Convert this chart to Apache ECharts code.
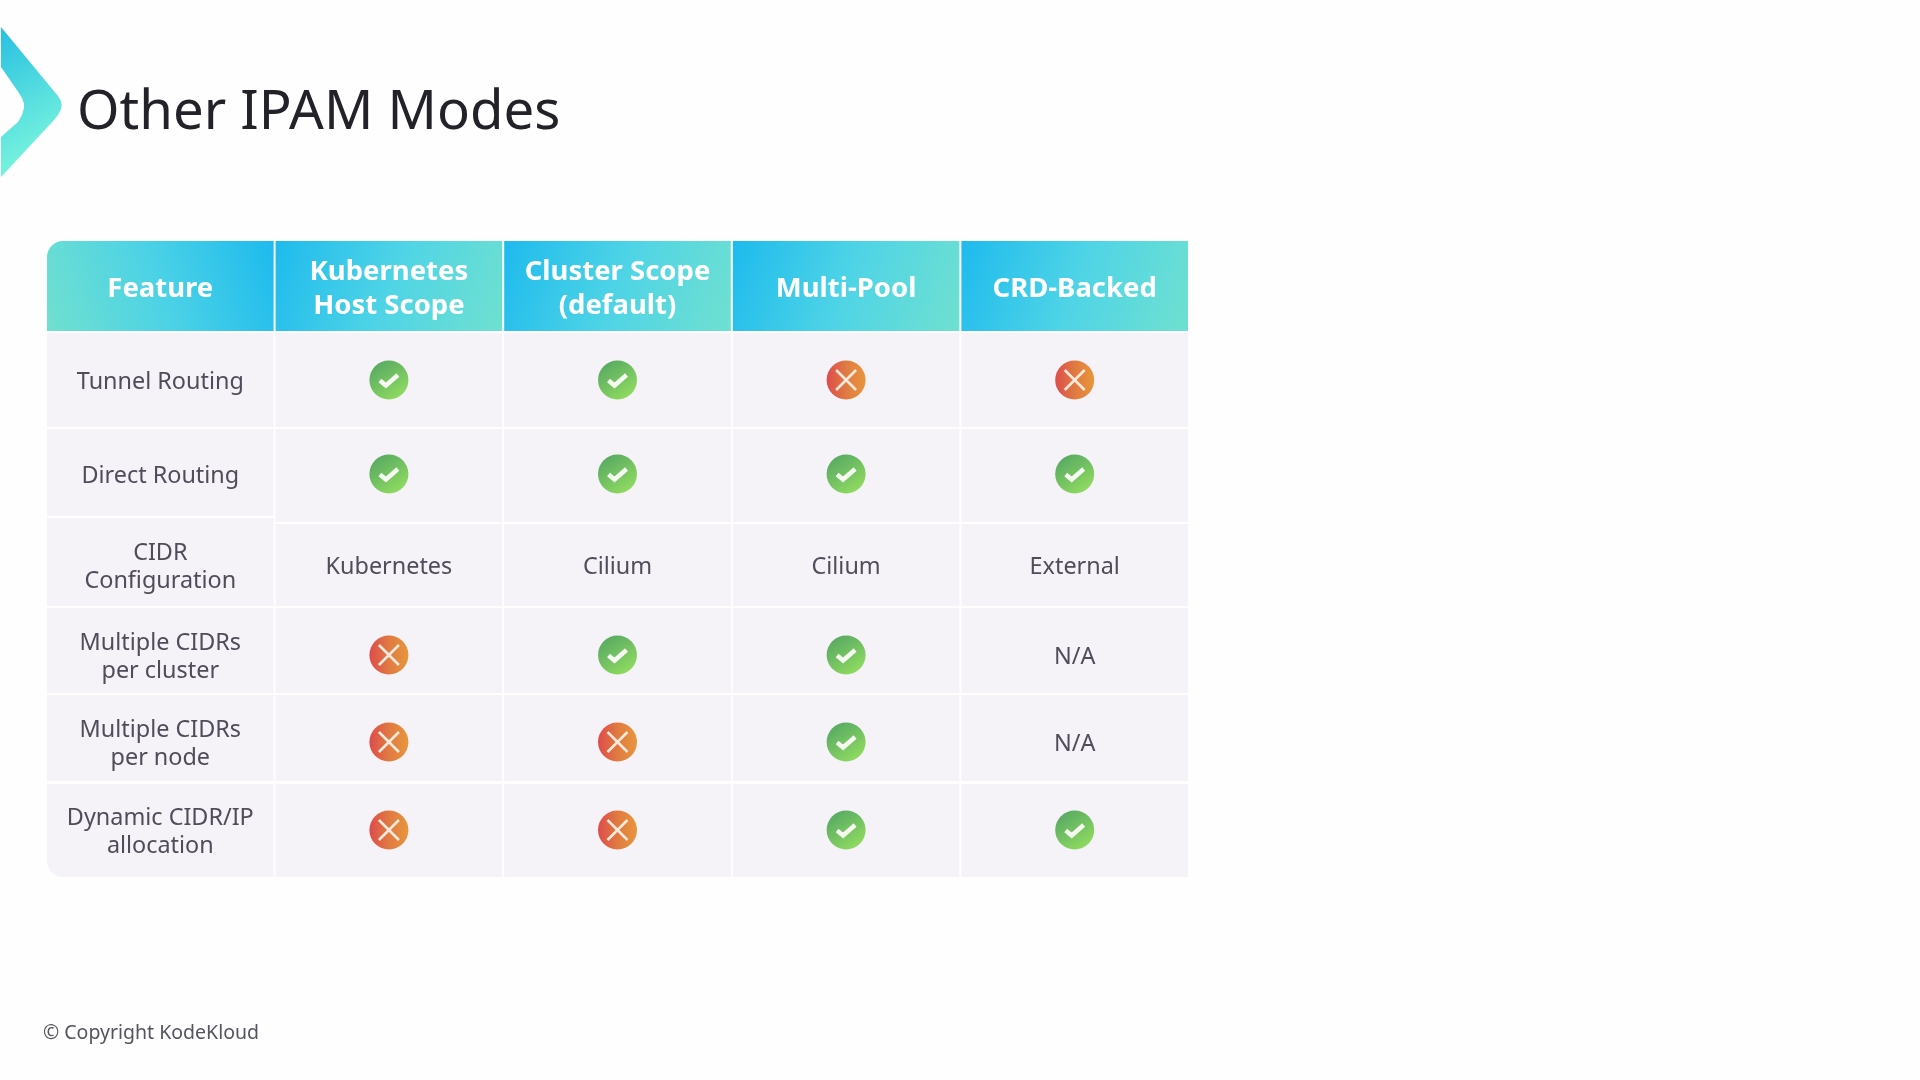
<!DOCTYPE html>
<html lang="en">

<head>
    <title>Other IPAM Modes</title>
    <meta charset="UTF-8">
    <script src="https://cdn.jsdelivr.net/npm/echarts@6/dist/echarts.min.js"></script>
    <style>
        html, body { margin: 0; padding: 0; background: #fefefe; }
        #mychart { width: 1920px; height: 1080px; }
    </style>
</head>

<body>
    <div id="mychart"></div>

    <script>
        // table content, 'yes' / 'no' become icons, anything else stays text
        var columns = ['Feature', 'Kubernetes\nHost Scope', 'Cluster Scope\n(default)', 'Multi-Pool', 'CRD-Backed'];
        var features = ['Tunnel Routing', 'Direct Routing', 'CIDR\nConfiguration', 'Multiple CIDRs\nper cluster', 'Multiple CIDRs\nper node', 'Dynamic CIDR/IP\nallocation'];
        var hostScope = ['yes', 'yes', 'Kubernetes', 'no', 'no', 'no'];
        var clusterScope = ['yes', 'yes', 'Cilium', 'yes', 'no', 'no'];
        var multiPool = ['no', 'yes', 'Cilium', 'yes', 'yes', 'yes'];
        var crdBacked = ['no', 'yes', 'External', 'N/A', 'N/A', 'yes'];

        // row layout on the y axis, header first
        var rowTops = [241, 333, 429, 524, 608, 695, 784];
        var rowBottoms = [331, 427, 522, 606, 693, 781, 877];
        var rowMiddles = [286, 380, 474, 565, 655, 742, 830];
        // the first column breaks rows 2 and 3 a little higher
        var featureTops = [241, 333, 429, 518, 608, 695, 784];
        var featureBottoms = [331, 427, 516, 606, 693, 781, 877];

        var fontName = 'Noto Sans';
        var textColor = '#4f4d59';

        var cells = [];
        columns.forEach(function (c, i) { cells.push([i, 0, c]); });
        features.forEach(function (f, i) { cells.push([0, i + 1, f]); });
        [hostScope, clusterScope, multiPool, crdBacked].forEach(function (list, c) {
            list.forEach(function (v, i) { cells.push([c + 1, i + 1, v]); });
        });

        function grad(x0, y0, x1, y1, from, mid, to) {
            return new echarts.graphic.LinearGradient(x0, y0, x1, y1, [
                { offset: 0, color: from },
                { offset: 0.5, color: mid },
                { offset: 1, color: to }
            ]);
        }

        function yesIcon(x, y) {
            return [{
                type: 'circle',
                shape: { cx: x, cy: y, r: 19.5 },
                style: { fill: grad(0.15, 0, 0.85, 1, '#55a763', '#74c262', '#94df60') }
            }, {
                type: 'polyline',
                shape: { points: [[x - 9, y + 0.5], [x - 3, y + 5.5], [x + 9, y - 5]] },
                style: { stroke: '#f6fbf2', fill: null, lineWidth: 4.5 }
            }];
        }

        function noIcon(x, y) {
            var d = 10;
            return [{
                type: 'circle',
                shape: { cx: x, cy: y, r: 19.5 },
                style: { fill: grad(0, 0.5, 1, 0.5, '#dd4c4c', '#e07a42', '#e8963c') }
            }, {
                type: 'line',
                shape: { x1: x - d, y1: y - d, x2: x + d, y2: y + d },
                style: { stroke: '#fbeadb', lineWidth: 2.5 }
            }, {
                type: 'line',
                shape: { x1: x - d, y1: y + d, x2: x + d, y2: y - d },
                style: { stroke: '#fbeadb', lineWidth: 2.5 }
            }];
        }

        function renderCell(params, api) {
            var col = api.value(0);
            var row = api.value(1);
            var label = cells[params.dataIndex][2];
            var tops = col === 0 ? featureTops : rowTops;
            var bottoms = col === 0 ? featureBottoms : rowBottoms;
            var bandWidth = api.size([1, 0])[0];
            var cx = api.coord([col, rowMiddles[row]])[0];
            var top = api.coord([col, tops[row]])[1];
            var bottom = api.coord([col, bottoms[row]])[1];
            var mid = api.coord([col, rowMiddles[row]])[1];
            var radius = [0, 0, 0, 0];
            if (col === 0 && row === 0) radius = [16, 0, 0, 0];
            if (col === 0 && row === 6) radius = [0, 0, 0, 16];
            var fill = '#f5f2f8';
            if (row === 0) {
                fill = col === 0
                    ? grad(0, 1, 1, 0.1, '#70e0cf', '#4cd2e6', '#1fbbed')
                    : grad(0, 0.1, 1, 1, '#1fbbed', '#4fd4e6', '#6fe0d0');
            }
            var children = [{
                type: 'rect',
                shape: { x: cx - bandWidth / 2 + 1, y: top, width: bandWidth - 2, height: bottom - top, r: radius },
                style: { fill: fill }
            }];
            if (label === 'yes') {
                children = children.concat(yesIcon(cx, mid));
            } else if (label === 'no') {
                children = children.concat(noIcon(cx, mid));
            } else {
                children.push({
                    type: 'text',
                    style: {
                        x: cx,
                        y: mid + (row === 0 ? 3 : 2),
                        text: label,
                        align: 'center',
                        verticalAlign: 'middle',
                        fontFamily: fontName,
                        fontSize: row === 0 ? 27.5 : 23.4,
                        fontWeight: row === 0 ? 'bold' : 'normal',
                        lineHeight: row === 0 ? 34 : 28,
                        fill: row === 0 ? '#ffffff' : textColor
                    }
                });
            }
            return { type: 'group', children: children };
        }

        var myChart = echarts.init(document.getElementById('mychart'));
        myChart.setOption({
            backgroundColor: '#fefefe',
            animation: false,
            title: [{
                text: 'Other IPAM Modes',
                left: 72,
                top: 81,
                textStyle: { fontFamily: fontName, fontSize: 54.5, fontWeight: 'normal', color: '#232228' }
            }, {
                text: '© Copyright KodeKloud',
                left: 38,
                top: 1018,
                textStyle: { fontFamily: fontName, fontSize: 19.5, fontWeight: 'normal', color: '#55535f' }
            }],
            grid: { left: 46, width: 1143, top: 241, height: 636 },
            xAxis: { type: 'category', data: columns, show: false },
            yAxis: { type: 'value', min: 241, max: 877, inverse: true, show: false },
            graphic: [{
                type: 'polygon',
                shape: { points: [[1, 27], [53, 90], [58, 96], [61, 101], [61.7, 105], [61, 109], [58, 115], [54, 120], [1, 177], [1, 137], [18, 122], [22, 115], [24, 108], [24, 104], [22.5, 99], [19, 93], [1, 67]] },
                style: {
                    fill: new echarts.graphic.LinearGradient(0, 0, 1, 0.7, [
                        { offset: 0, color: '#27bfe2' },
                        { offset: 1, color: '#72f0de' }
                    ])
                }
            }],
            series: [{
                type: 'custom',
                coordinateSystem: 'cartesian2d',
                renderItem: renderCell,
                encode: { x: 0, y: 1 },
                data: cells.map(function (c) { return [c[0], c[1]]; })
            }]
        });
    </script>
</body>

</html>
